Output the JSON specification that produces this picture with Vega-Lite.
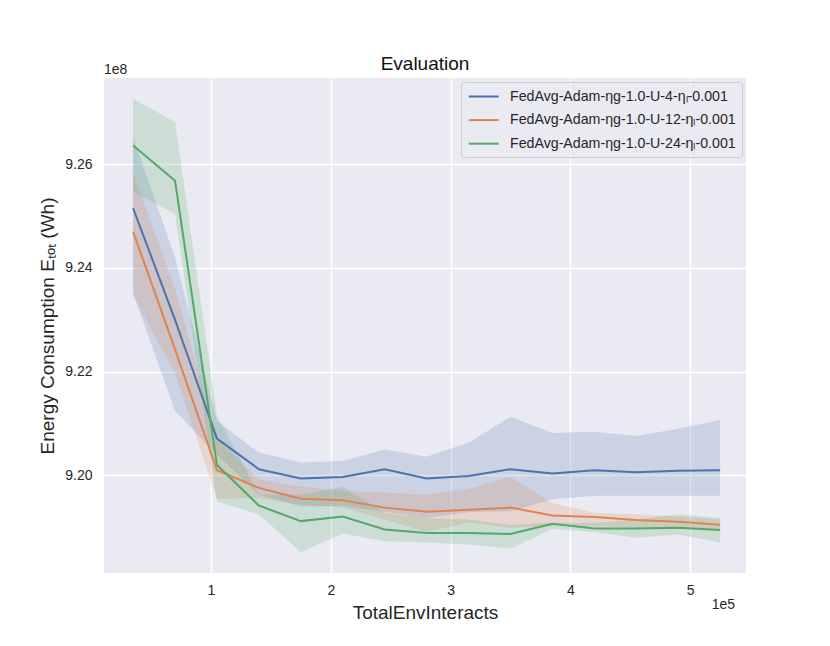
{
  "$schema": "https://vega.github.io/schema/vega-lite/v6.json",
  "autosize": {"type": "none"},
  "width": 642,
  "height": 495,
  "padding": {"left": 104, "top": 78, "right": 84, "bottom": 73},
  "background": "white",
  "config": {
    "font": "Liberation Sans",
    "view": {"fill": "#EAEAF2", "stroke": null},
    "axis": {"grid": true, "gridColor": "white", "gridWidth": 1.3, "domain": false, "ticks": false, "labelColor": "#262626", "titleColor": "#262626", "labelFontSize": 14, "titleFontSize": 19, "titleFontWeight": "normal"},
    "title": {"fontSize": 19, "fontWeight": "normal", "color": "#111111", "offset": 10, "dy": 21}
  },
  "title": "Evaluation",
  "datasets": {
    "runs": [
      {"run": "FedAvg-Adam-ηg-1.0-U-4-ηₗ-0.001", "TotalEnvInteracts": 35000, "Energy": 925150000, "lo": 923510000, "hi": 926520000},
      {"run": "FedAvg-Adam-ηg-1.0-U-4-ηₗ-0.001", "TotalEnvInteracts": 70000, "Energy": 923000000, "lo": 921240000, "hi": 924200000},
      {"run": "FedAvg-Adam-ηg-1.0-U-4-ηₗ-0.001", "TotalEnvInteracts": 105000, "Energy": 920710000, "lo": 920400000, "hi": 921050000},
      {"run": "FedAvg-Adam-ηg-1.0-U-4-ηₗ-0.001", "TotalEnvInteracts": 140000, "Energy": 920120000, "lo": 919630000, "hi": 920440000},
      {"run": "FedAvg-Adam-ηg-1.0-U-4-ηₗ-0.001", "TotalEnvInteracts": 175000, "Energy": 919940000, "lo": 919400000, "hi": 920250000},
      {"run": "FedAvg-Adam-ηg-1.0-U-4-ηₗ-0.001", "TotalEnvInteracts": 210000, "Energy": 919970000, "lo": 919410000, "hi": 920280000},
      {"run": "FedAvg-Adam-ηg-1.0-U-4-ηₗ-0.001", "TotalEnvInteracts": 245000, "Energy": 920120000, "lo": 919300000, "hi": 920500000},
      {"run": "FedAvg-Adam-ηg-1.0-U-4-ηₗ-0.001", "TotalEnvInteracts": 280000, "Energy": 919940000, "lo": 919180000, "hi": 920360000},
      {"run": "FedAvg-Adam-ηg-1.0-U-4-ηₗ-0.001", "TotalEnvInteracts": 315000, "Energy": 919990000, "lo": 919290000, "hi": 920630000},
      {"run": "FedAvg-Adam-ηg-1.0-U-4-ηₗ-0.001", "TotalEnvInteracts": 350000, "Energy": 920120000, "lo": 919310000, "hi": 921130000},
      {"run": "FedAvg-Adam-ηg-1.0-U-4-ηₗ-0.001", "TotalEnvInteracts": 385000, "Energy": 920040000, "lo": 919540000, "hi": 920820000},
      {"run": "FedAvg-Adam-ηg-1.0-U-4-ηₗ-0.001", "TotalEnvInteracts": 420000, "Energy": 920100000, "lo": 919610000, "hi": 920840000},
      {"run": "FedAvg-Adam-ηg-1.0-U-4-ηₗ-0.001", "TotalEnvInteracts": 455000, "Energy": 920060000, "lo": 919610000, "hi": 920760000},
      {"run": "FedAvg-Adam-ηg-1.0-U-4-ηₗ-0.001", "TotalEnvInteracts": 490000, "Energy": 920090000, "lo": 919610000, "hi": 920900000},
      {"run": "FedAvg-Adam-ηg-1.0-U-4-ηₗ-0.001", "TotalEnvInteracts": 525000, "Energy": 920100000, "lo": 919610000, "hi": 921070000},
      {"run": "FedAvg-Adam-ηg-1.0-U-12-ηₗ-0.001", "TotalEnvInteracts": 35000, "Energy": 924700000, "lo": 923460000, "hi": 925840000},
      {"run": "FedAvg-Adam-ηg-1.0-U-12-ηₗ-0.001", "TotalEnvInteracts": 70000, "Energy": 922430000, "lo": 921970000, "hi": 923600000},
      {"run": "FedAvg-Adam-ηg-1.0-U-12-ηₗ-0.001", "TotalEnvInteracts": 105000, "Energy": 920100000, "lo": 919540000, "hi": 920700000},
      {"run": "FedAvg-Adam-ηg-1.0-U-12-ηₗ-0.001", "TotalEnvInteracts": 140000, "Energy": 919760000, "lo": 919570000, "hi": 919920000},
      {"run": "FedAvg-Adam-ηg-1.0-U-12-ηₗ-0.001", "TotalEnvInteracts": 175000, "Energy": 919550000, "lo": 919440000, "hi": 919790000},
      {"run": "FedAvg-Adam-ηg-1.0-U-12-ηₗ-0.001", "TotalEnvInteracts": 210000, "Energy": 919520000, "lo": 919380000, "hi": 919700000},
      {"run": "FedAvg-Adam-ηg-1.0-U-12-ηₗ-0.001", "TotalEnvInteracts": 245000, "Energy": 919380000, "lo": 919150000, "hi": 919670000},
      {"run": "FedAvg-Adam-ηg-1.0-U-12-ηₗ-0.001", "TotalEnvInteracts": 280000, "Energy": 919300000, "lo": 918910000, "hi": 919630000},
      {"run": "FedAvg-Adam-ηg-1.0-U-12-ηₗ-0.001", "TotalEnvInteracts": 315000, "Energy": 919340000, "lo": 919090000, "hi": 919740000},
      {"run": "FedAvg-Adam-ηg-1.0-U-12-ηₗ-0.001", "TotalEnvInteracts": 350000, "Energy": 919380000, "lo": 918990000, "hi": 919970000},
      {"run": "FedAvg-Adam-ηg-1.0-U-12-ηₗ-0.001", "TotalEnvInteracts": 385000, "Energy": 919230000, "lo": 919020000, "hi": 919470000},
      {"run": "FedAvg-Adam-ηg-1.0-U-12-ηₗ-0.001", "TotalEnvInteracts": 420000, "Energy": 919200000, "lo": 919020000, "hi": 919280000},
      {"run": "FedAvg-Adam-ηg-1.0-U-12-ηₗ-0.001", "TotalEnvInteracts": 455000, "Energy": 919140000, "lo": 918990000, "hi": 919250000},
      {"run": "FedAvg-Adam-ηg-1.0-U-12-ηₗ-0.001", "TotalEnvInteracts": 490000, "Energy": 919110000, "lo": 918990000, "hi": 919210000},
      {"run": "FedAvg-Adam-ηg-1.0-U-12-ηₗ-0.001", "TotalEnvInteracts": 525000, "Energy": 919050000, "lo": 918960000, "hi": 919150000},
      {"run": "FedAvg-Adam-ηg-1.0-U-24-ηₗ-0.001", "TotalEnvInteracts": 35000, "Energy": 926360000, "lo": 925470000, "hi": 927260000},
      {"run": "FedAvg-Adam-ηg-1.0-U-24-ηₗ-0.001", "TotalEnvInteracts": 70000, "Energy": 925680000, "lo": 925040000, "hi": 926810000},
      {"run": "FedAvg-Adam-ηg-1.0-U-24-ηₗ-0.001", "TotalEnvInteracts": 105000, "Energy": 920200000, "lo": 919500000, "hi": 921150000},
      {"run": "FedAvg-Adam-ηg-1.0-U-24-ηₗ-0.001", "TotalEnvInteracts": 140000, "Energy": 919420000, "lo": 919250000, "hi": 919630000},
      {"run": "FedAvg-Adam-ηg-1.0-U-24-ηₗ-0.001", "TotalEnvInteracts": 175000, "Energy": 919120000, "lo": 918520000, "hi": 919630000},
      {"run": "FedAvg-Adam-ηg-1.0-U-24-ηₗ-0.001", "TotalEnvInteracts": 210000, "Energy": 919210000, "lo": 918880000, "hi": 919780000},
      {"run": "FedAvg-Adam-ηg-1.0-U-24-ηₗ-0.001", "TotalEnvInteracts": 245000, "Energy": 918960000, "lo": 918730000, "hi": 919280000},
      {"run": "FedAvg-Adam-ηg-1.0-U-24-ηₗ-0.001", "TotalEnvInteracts": 280000, "Energy": 918890000, "lo": 918710000, "hi": 919180000},
      {"run": "FedAvg-Adam-ηg-1.0-U-24-ηₗ-0.001", "TotalEnvInteracts": 315000, "Energy": 918890000, "lo": 918670000, "hi": 919150000},
      {"run": "FedAvg-Adam-ηg-1.0-U-24-ηₗ-0.001", "TotalEnvInteracts": 350000, "Energy": 918870000, "lo": 918590000, "hi": 919050000},
      {"run": "FedAvg-Adam-ηg-1.0-U-24-ηₗ-0.001", "TotalEnvInteracts": 385000, "Energy": 919070000, "lo": 918970000, "hi": 919090000},
      {"run": "FedAvg-Adam-ηg-1.0-U-24-ηₗ-0.001", "TotalEnvInteracts": 420000, "Energy": 918980000, "lo": 918910000, "hi": 919090000},
      {"run": "FedAvg-Adam-ηg-1.0-U-24-ηₗ-0.001", "TotalEnvInteracts": 455000, "Energy": 918980000, "lo": 918800000, "hi": 919150000},
      {"run": "FedAvg-Adam-ηg-1.0-U-24-ηₗ-0.001", "TotalEnvInteracts": 490000, "Energy": 918990000, "lo": 918860000, "hi": 919250000},
      {"run": "FedAvg-Adam-ηg-1.0-U-24-ηₗ-0.001", "TotalEnvInteracts": 525000, "Energy": 918950000, "lo": 918710000, "hi": 919180000}
    ],
    "offsets": [{"label": "1e8"}],
    "offsetsX": [{"label": "1e5"}]
  },
  "layer": [
    {
      "data": {"name": "runs"},
      "mark": {"type": "area", "opacity": 0.2},
      "encoding": {
        "x": {"field": "TotalEnvInteracts", "type": "quantitative", "scale": {"domain": [10700, 546600], "nice": false, "zero": false},
              "axis": {"values": [100000, 200000, 300000, 400000, 500000], "labelExpr": "format(datum.value/1e5,'d')", "labelPadding": 10, "titlePadding": 6}, "title": "TotalEnvInteracts"},
        "y": {"field": "lo", "type": "quantitative", "scale": {"domain": [918120000, 927660000], "nice": false, "zero": false},
              "axis": {"values": [920000000, 922000000, 924000000, 926000000], "labelExpr": "format(datum.value/1e8,'.2f')", "labelPadding": 12, "titlePadding": 7}, "title": "Energy Consumption Eₜₒₜ (Wh)"},
        "y2": {"field": "hi"},
        "color": {"field": "run", "type": "nominal",
                  "scale": {"domain": ["FedAvg-Adam-ηg-1.0-U-4-ηₗ-0.001", "FedAvg-Adam-ηg-1.0-U-12-ηₗ-0.001", "FedAvg-Adam-ηg-1.0-U-24-ηₗ-0.001"], "range": ["#4C72B0", "#DD8452", "#55A868"]},
                  "legend": {"title": null, "orient": "top-right", "offset": 4, "symbolType": "M-0.9,0H3.1", "symbolSize": 225, "symbolStrokeWidth": 2, "symbolOpacity": 1, "labelFontSize": 14.2, "labelColor": "#262626", "labelOffset": 26, "rowPadding": 7.6, "padding": 6, "fillColor": "rgba(234,234,242,0.85)", "strokeColor": "#CCCCCC", "cornerRadius": 3, "labelLimit": 400}}
      }
    },
    {
      "data": {"name": "runs"},
      "mark": {"type": "line", "strokeWidth": 2},
      "encoding": {
        "x": {"field": "TotalEnvInteracts", "type": "quantitative"},
        "y": {"field": "Energy", "type": "quantitative"},
        "color": {"field": "run", "type": "nominal"}
      }
    },
    {
      "data": {"name": "offsets"},
      "mark": {"type": "text", "align": "left", "baseline": "alphabetic", "dy": -4, "fontSize": 14, "color": "#262626"},
      "encoding": {"x": {"datum": 10700, "type": "quantitative"}, "y": {"datum": 927660000, "type": "quantitative"}, "text": {"field": "label"}}
    },
    {
      "data": {"name": "offsetsX"},
      "mark": {"type": "text", "align": "right", "baseline": "middle", "dx": -11, "dy": 32, "fontSize": 14, "color": "#262626"},
      "encoding": {"x": {"datum": 546600, "type": "quantitative"}, "y": {"datum": 918120000, "type": "quantitative"}, "text": {"field": "label"}}
    }
  ]
}
